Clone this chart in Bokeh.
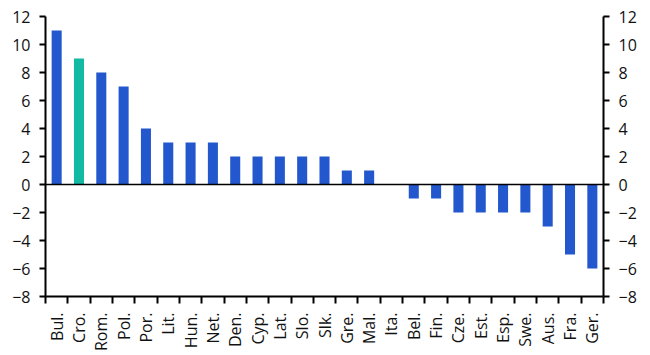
from bokeh.plotting import figure
from bokeh.models import FixedTicker, LinearAxis, Range1d, Span
from bokeh.embed import file_html
from bokeh.resources import INLINE
import math

categories = ["Bul.", "Cro.", "Rom.", "Pol.", "Por.", "Lit.", "Hun.", "Net.", "Den.", "Cyp.",
              "Lat.", "Slo.", "Slk.", "Gre.", "Mal.", "Ita.", "Bel.", "Fin.", "Cze.", "Est.",
              "Esp.", "Swe.", "Aus.", "Fra.", "Ger."]
values = [11, 9, 8, 7, 4, 3, 3, 3, 2, 2, 2, 2, 2, 1, 1, 0, -1, -1, -2, -2, -2, -2, -3, -5, -6]
highlight = "Cro."
y_ticks = list(range(-8, 13, 2))

BLUE = "#2357CD"
TEAL = "#12B9A3"
FONT = "Open Sans"

n = len(categories)
xs = [i + 0.5 for i in range(n)]
colors = [TEAL if c == highlight else BLUE for c in categories]

p = figure(width=650, height=355, output_backend="svg", toolbar_location=None,
           x_range=Range1d(0, n), y_range=Range1d(-8, 12),
           min_border_left=45, min_border_right=47, min_border_top=16, min_border_bottom=59,
           y_axis_location=None, x_axis_location=None)
p.outline_line_color = None
p.xgrid.visible = False
p.ygrid.visible = False
p.background_fill_color = "white"
p.border_fill_color = "white"

p.vbar(x=xs, top=values, bottom=0, width=0.45, color=colors, line_color=None)

p.add_layout(Span(location=0, dimension="width", line_color="black", line_width=1.5))

def style_y(ax):
    ax.ticker = FixedTicker(ticks=y_ticks)
    ax.axis_line_width = 2
    ax.major_tick_line_width = 2
    ax.major_tick_out = 6
    ax.major_tick_in = 0
    ax.minor_tick_line_color = None
    ax.major_label_text_font = FONT
    ax.major_label_text_font_size = "16px"
    ax.major_label_text_color = "#111111"
    ax.major_label_standoff = 9

yl = LinearAxis()
style_y(yl)
p.add_layout(yl, "left")
yr = LinearAxis()
style_y(yr)
p.add_layout(yr, "right")

xa = LinearAxis()
xa.ticker = FixedTicker(ticks=xs, minor_ticks=list(range(n + 1)))
xa.major_label_overrides = {x: c for x, c in zip(xs, categories)}
xa.major_tick_line_color = None
xa.minor_tick_line_width = 2
xa.minor_tick_out = 7
xa.minor_tick_in = 0
xa.axis_line_width = 2
xa.major_label_orientation = math.pi / 2
xa.major_label_text_font = FONT
xa.major_label_text_font_size = "16px"
xa.major_label_text_color = "#111111"
xa.major_label_standoff = 9
p.add_layout(xa, "below")

open("out.html", "w").write(file_html(p, INLINE))
